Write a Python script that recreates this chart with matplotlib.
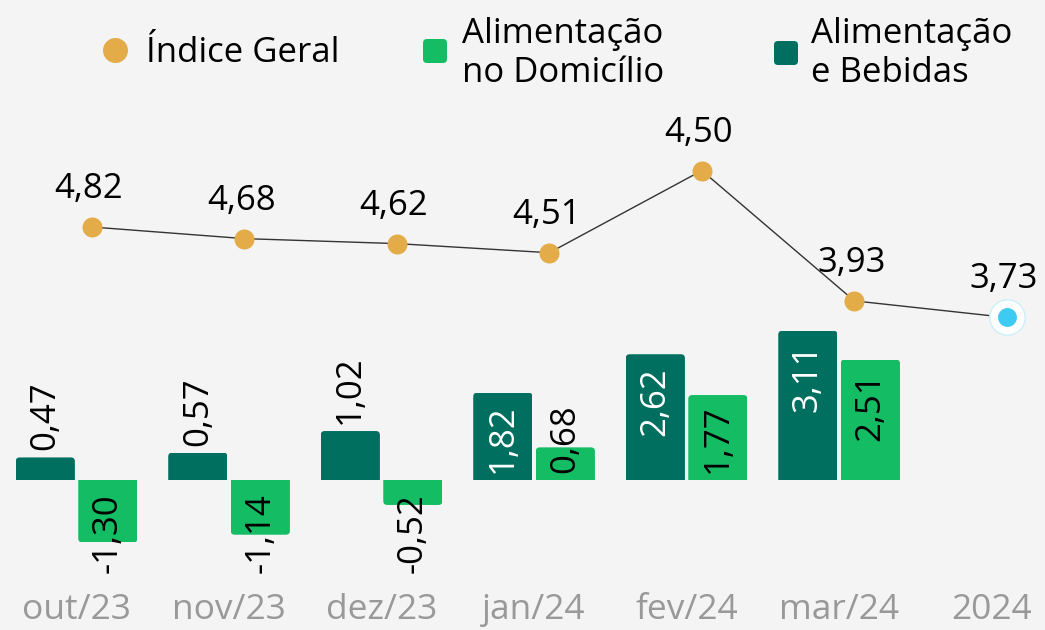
import matplotlib
matplotlib.use("Agg")
import matplotlib.pyplot as plt
from matplotlib.patches import FancyBboxPatch, Rectangle
from matplotlib.lines import Line2D
from matplotlib.transforms import IdentityTransform

# ---------------- data ----------------
categories = ["out/23", "nov/23", "dez/23", "jan/24", "fev/24", "mar/24", "2024"]
alim_bebidas = [0.47, 0.57, 1.02, 1.82, 2.62, 3.11]
alim_domicilio = [-1.30, -1.14, -0.52, 0.68, 1.77, 2.51]
indice_geral = [4.82, 4.68, 4.62, 4.51, 5.50, 3.93, 3.73]
indice_labels = ["4,82", "4,68", "4,62", "4,51", "4,50", "3,93", "3,73"]

# ---------------- style ----------------
BG = "#f4f4f4"
DARK = "#006f60"
LIGHT = "#14bd64"
ORANGE = "#e3ac48"
CYAN = "#3ecbf2"
GRAY = "#999999"
FONT = ["Open Sans", "DejaVu Sans"]
plt.rcParams["font.family"] = FONT

W, H = 1045, 630
fig = plt.figure(figsize=(W / 100, H / 100), dpi=100, facecolor=BG)

bottom_px = 596
ax = fig.add_axes([0, (H - bottom_px) / H, 1, bottom_px / H])
ax.set_facecolor("none")
ax.set_xlim(-0.502, 6.35)
ax.set_ylim(-(bottom_px - 480) / 48, 480 / 48)
ax2 = ax.twinx()
ax2.set_ylim(4.82 - (bottom_px - 227) / 83, 4.82 + 227 / 83)

for a in (ax, ax2):
    for s in a.spines.values():
        s.set_visible(False)
    a.tick_params(length=0)
ax2.set_yticks([])
ax.set_yticks([])
ax.set_xticks(range(len(categories)))
ax.set_xticklabels(categories, fontsize=25.5, color=GRAY)
ax.tick_params(axis="x", pad=-2.5)

# ---------------- bars ----------------
bw = 0.388
off = 0.205
n = len(alim_bebidas)
xs = list(range(n))
px_x = 1 / 152.5   # x data per pixel
px_y = 1 / 48      # y data per pixel
aspect = px_y / px_x


def rounded(bars, color):
    for r in bars:
        x0, w, h = r.get_x(), r.get_width(), r.get_height()
        r.set_visible(False)
        ext = 8 * px_y
        if h >= 0:
            y0, hh = -ext, h + ext
            clip = Rectangle((x0, 0), w, h, transform=ax.transData)
        else:
            y0, hh = h, -h + ext
            clip = Rectangle((x0, h), w, -h, transform=ax.transData)
        p = FancyBboxPatch((x0, y0), w, hh,
                           boxstyle="round,pad=0,rounding_size=%f" % (4 * px_x),
                           mutation_aspect=aspect, facecolor=color,
                           edgecolor="none", zorder=2)
        ax.add_patch(p)
        p.set_clip_path(clip)


b1 = ax.bar([x - off for x in xs], alim_bebidas, width=bw, color=DARK)
b2 = ax.bar([x + off for x in xs], alim_domicilio, width=bw, color=LIGHT)
rounded(b1, DARK)
rounded(b2, LIGHT)

PT = 0.72  # points per pixel
TXT_LEN = 70


def fmt(v):
    return ("%.2f" % v).replace(".", ",")


def bar_label(x, v, inside_color, allow_inside):
    hpx = v * 48
    if v < 0:
        ax.annotate(fmt(v), (x, 0), xytext=(0, -13 * PT), textcoords="offset points",
                    rotation=90, ha="center", va="top", fontsize=25, color="black", zorder=5)
        return
    if allow_inside and hpx < 80:
        ax.annotate(fmt(v), (x, v), xytext=(0, 7 * PT), textcoords="offset points",
                    rotation=90, ha="center", va="bottom", fontsize=25, color="black", zorder=5)
        return
    top = hpx - 13
    if top - TXT_LEN < 7:
        ax.annotate(fmt(v), (x, 0), xytext=(0, 7 * PT), textcoords="offset points",
                    rotation=90, ha="center", va="bottom", fontsize=25, color=inside_color, zorder=5)
    else:
        ax.annotate(fmt(v), (x, v), xytext=(0, -13 * PT), textcoords="offset points",
                    rotation=90, ha="center", va="top", fontsize=25, color=inside_color, zorder=5)


for x, v in zip(xs, alim_bebidas):
    bar_label(x - off, v, "white", True)
for x, v in zip(xs, alim_domicilio):
    bar_label(x + off, v, "black", False)

# ---------------- line ----------------
lx = [i + 0.1 for i in range(len(indice_geral))]
ax2.plot(lx, indice_geral, color="#333333", lw=1, zorder=3)
ax2.plot(lx[:-1], indice_geral[:-1], ls="none", marker="o", ms=14.4,
         mfc=ORANGE, mec="none", zorder=4)
ax2.plot(lx[-1:], indice_geral[-1:], ls="none", marker="o", ms=25.5,
         mfc="white", mec="#cdeef8", mew=1, zorder=4)
ax2.plot(lx[-1:], indice_geral[-1:], ls="none", marker="o", ms=13.6,
         mfc=CYAN, mec="none", zorder=5)
for x, v, t in zip(lx, indice_geral, indice_labels):
    ax2.annotate(t, (x, v), xytext=(-3 * PT, 29 * PT), textcoords="offset points",
                 ha="center", va="baseline", fontsize=25, color="black", zorder=6)

# ---------------- legend ----------------
fig.add_artist(Line2D([114.5], [H - 50], transform=IdentityTransform(),
                      marker="o", ms=18, mfc=ORANGE, mec="none", ls="none"))
for cx, cy, col in [(435, 51, LIGHT), (786, 53, DARK)]:
    s = 24
    fig.add_artist(FancyBboxPatch((cx - s / 2, H - cy - s / 2), s, s,
                                  boxstyle="round,pad=0,rounding_size=4",
                                  transform=IdentityTransform(),
                                  facecolor=col, edgecolor="none"))

legend_lines = [(146, 62, "Índice Geral"),
                (462, 43, "Alimentação"), (462, 82, "no Domicílio"),
                (811, 43, "Alimentação"), (811, 82, "e Bebidas")]
for x, y, t in legend_lines:
    fig.text(x / W, 1 - y / H, t, fontsize=25, color="black",
             ha="left", va="baseline")

fig.savefig("out.png", dpi=100, facecolor=BG)
